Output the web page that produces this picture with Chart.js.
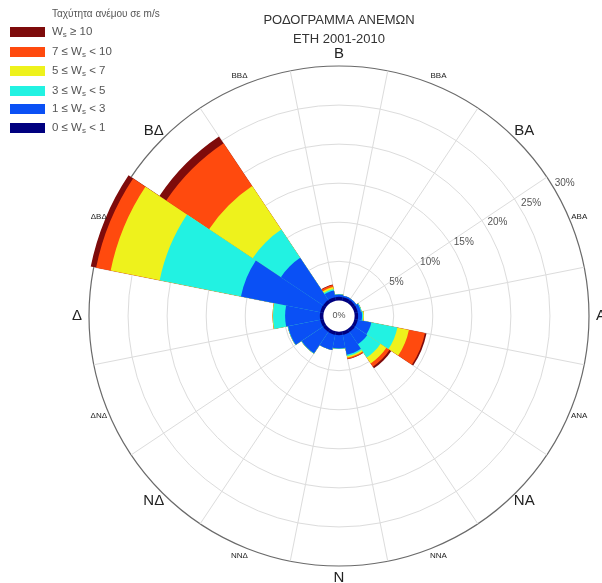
<!DOCTYPE html>
<html>
<head>
<meta charset="utf-8">
<script src="https://cdn.jsdelivr.net/npm/chart.js@4.4.0/dist/chart.umd.min.js"></script>
<style>
  html, body { margin: 0; padding: 0; background: #ffffff; }
  canvas { display: block; }
</style>
</head>
<body>
<canvas id="rose" width="602" height="583"></canvas>
<script>
// Compass sectors, clockwise from north (Greek abbreviations)
const directions = ['Β','ΒΒΑ','ΒΑ','ΑΒΑ','Α','ΑΝΑ','ΝΑ','ΝΝΑ','Ν','ΝΝΔ','ΝΔ','ΔΝΔ','Δ','ΔΒΔ','ΒΔ','ΒΒΔ'];

// Frequency (%) of each wind-speed class per sector
const calm     = [0.45, 0.45, 0.45, 0.45, 0.45, 0.45, 0.45, 0.45, 0.45, 0.45, 0.45, 0.45, 0.45, 0.45, 0.45, 0.45]; // 0–1 m/s
const light    = [0.30, 0.20, 0.20, 0.40, 0.50, 1.77, 1.90, 2.60, 1.70, 2.00, 3.30, 4.20, 4.45, 10.35, 6.50, 0.88]; // 1–3 m/s
const gentle   = [0.05, 0.00, 0.00, 0.10, 0.15, 3.40, 2.05, 0.20, 0.05, 0.00, 0.05, 0.05, 1.55, 10.60, 4.35, 0.20]; // 3–5 m/s
const moderate = [0.00, 0.00, 0.00, 0.00, 0.10, 1.50, 0.90, 0.20, 0.00, 0.00, 0.00, 0.00, 0.05, 6.40, 6.70, 0.25]; // 5–7 m/s
const fresh    = [0.00, 0.00, 0.00, 0.00, 0.00, 2.10, 0.50, 0.15, 0.00, 0.00, 0.00, 0.00, 0.00, 1.90, 6.60, 0.25]; // 7–10 m/s
const strong   = [0.00, 0.00, 0.00, 0.00, 0.00, 0.20, 0.25, 0.05, 0.00, 0.00, 0.00, 0.00, 0.00, 0.70, 1.05, 0.07]; // >= 10 m/s

// Ring values of the radial axis (%)
const ringTicks = [0, 5, 10, 15, 20, 25, 30];

// Speed classes: legend text pieces around "W" with subscript "s"
const classText = [['0 ≤ ', ' < 1'], ['1 ≤ ', ' < 3'], ['3 ≤ ', ' < 5'], ['5 ≤ ', ' < 7'], ['7 ≤ ', ' < 10'], ['', ' ≥ 10']];
const classColors = ['#00007f', '#0a50f5', '#22f2e2', '#eef21c', '#ff4a0e', '#7e0b0b'];
const classSeries = [calm, light, gentle, moderate, fresh, strong];

const FONT = '"Liberation Sans", Arial, sans-serif';

// Stack the classes outward: each dataset reaches the running total,
// and the innermost class (index 0) is painted last so it stays on top.
const datasets = [];
let running = directions.map(() => 0);
classSeries.forEach((series, k) => {
  running = running.map((v, i) => v + series[i]);
  datasets.push({
    label: classText[k].join('W'),
    data: running.slice(),
    backgroundColor: classColors[k],
    borderWidth: 0,
    clip: false
  });
});

const roseDecor = {
  id: 'roseDecor',
  beforeDraw(chart) {
    const ctx = chart.ctx;
    ctx.save();
    ctx.fillStyle = '#ffffff';
    ctx.fillRect(0, 0, chart.width, chart.height);
    ctx.restore();
  },
  afterDatasetsDraw(chart) {
    const r = chart.scales.r;
    const ctx = chart.ctx;
    const cx = r.xCenter, cy = r.yCenter;
    const hole = r.getDistanceFromCenterForValue(0);
    ctx.save();

    // empty centre
    ctx.beginPath();
    ctx.arc(cx, cy, hole, 0, Math.PI * 2);
    ctx.fillStyle = '#ffffff';
    ctx.fill();

    ctx.textAlign = 'center';
    ctx.textBaseline = 'middle';
    ctx.fillStyle = '#555';
    ctx.font = '9px ' + FONT;
    ctx.fillText('0%', cx, cy);

    // ring labels along one spoke
    const tickAng = 59.5 * Math.PI / 180;
    ctx.font = '10px ' + FONT;
    ringTicks.forEach(v => {
      if (v === 0) return;
      const d = r.getDistanceFromCenterForValue(v) + 12;
      ctx.fillText(v + '%', cx + d * Math.sin(tickAng), cy - d * Math.cos(tickAng));
    });

    // compass labels at sector centres
    directions.forEach((name, i) => {
      const a = i * 22.5 * Math.PI / 180;
      const major = i % 2 === 0;
      const d = r.drawingArea + (major ? 12 : 10);
      ctx.font = (major ? '15px ' : '8px ') + FONT;
      ctx.fillStyle = '#222';
      ctx.fillText(name, cx + d * Math.sin(a), cy - d * Math.cos(a));
    });

    // title
    ctx.font = '13px ' + FONT;
    ctx.fillStyle = '#333';
    ctx.fillText('ΡΟΔΟΓΡΑΜΜΑ ΑΝΕΜΩΝ', 339, 20);
    ctx.fillText('ΕΤΗ 2001-2010', 339, 39);

    // legend
    ctx.textAlign = 'left';
    ctx.font = '10px ' + FONT;
    ctx.fillStyle = '#555';
    ctx.fillText('Ταχύτητα ανέμου σε m/s', 52, 14);
    const rowY = [128, 109, 91, 71, 52, 32];
    classText.forEach((parts, k) => {
      const y = rowY[k];
      ctx.fillStyle = classColors[k];
      ctx.fillRect(10, y - 5, 35, 10);
      ctx.fillStyle = '#555';
      let x = 52;
      ctx.font = '11.5px ' + FONT;
      ctx.fillText(parts[0], x, y); x += ctx.measureText(parts[0]).width;
      ctx.fillText('W', x, y); x += ctx.measureText('W').width;
      ctx.font = '8px ' + FONT;
      ctx.fillText('s', x, y + 3); x += ctx.measureText('s').width;
      ctx.font = '11.5px ' + FONT;
      ctx.fillText(parts[1], x, y);
    });
    ctx.restore();
  }
};

new Chart(document.getElementById('rose'), {
  type: 'polarArea',
  data: { labels: directions, datasets },
  options: {
    responsive: false,
    animation: false,
    layout: { padding: { left: 89, right: 13, top: 66, bottom: 17 } },
    plugins: { legend: { display: false }, tooltip: { enabled: false } },
    scales: {
      r: {
        min: -2,
        max: 30,
        startAngle: -11.25,
        afterBuildTicks(scale) { scale.ticks = ringTicks.map(v => ({ value: v })); },
        ticks: { display: false },
        pointLabels: { display: false },
        angleLines: { display: true, color: '#dcdcdc', lineWidth: 1 },
        grid: {
          circular: true,
          color: c => (c.tick && c.tick.value === 30 ? '#6a6a6a' : '#dcdcdc'),
          lineWidth: c => (c.tick && c.tick.value === 30 ? 1.2 : 1)
        }
      }
    }
  },
  plugins: [roseDecor]
});
</script>
</body>
</html>
